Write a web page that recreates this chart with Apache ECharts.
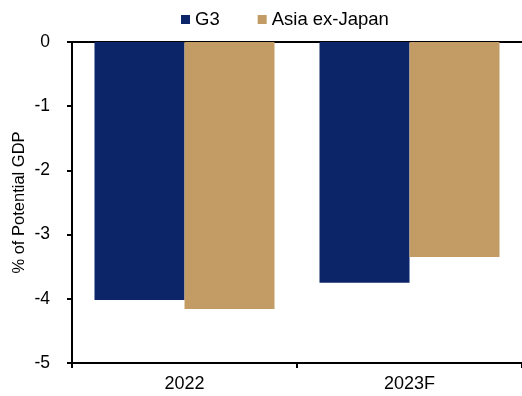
<!DOCTYPE html>
<html><head><meta charset="utf-8">
<script src="https://cdn.jsdelivr.net/npm/echarts@6/dist/echarts.min.js"></script>
<style>html,body{margin:0;padding:0;background:#fff}#c{width:522px;height:396px}</style>
</head><body><div id="c"></div>
<script>
var categories = ['2022', '2023F'];
var g3 = [-4.02, -3.75];
var asiaExJapan = [-4.16, -3.35];
var yTicks = [0, -1, -2, -3, -4, -5];

var chart = echarts.init(document.getElementById('c'));
var font = 'Arial, "Liberation Sans", sans-serif';
chart.setOption({
  animation: false,
  textStyle: {fontFamily: font},
  legend: {
    top: 5, left: 176, itemWidth: 9, itemHeight: 9, itemGap: 38,
    icon: 'rect',
    textStyle: {fontSize: 18.5, color: '#000', fontFamily: font},
    data: ['G3', 'Asia ex-Japan']
  },
  grid: {left: 72, right: -2, top: 42, bottom: 33},
  xAxis: [{
    type: 'category', data: categories, position: 'bottom',
    axisLine: {onZero: false, lineStyle: {color: '#000', width: 2}},
    axisTick: {show: true, length: 5, lineStyle: {color: '#000', width: 2}},
    axisLabel: {fontSize: 18, color: '#000', margin: 12, fontFamily: font}
  }, {
    type: 'category', data: categories, position: 'top',
    axisLine: {show: true, onZero: false, lineStyle: {color: '#000', width: 2}},
    axisTick: {show: false}, axisLabel: {show: false}
  }],
  yAxis: {
    type: 'value', min: -5, max: 0, interval: 1,
    name: '% of Potential GDP', nameLocation: 'middle', nameGap: 44,
    nameMoveOverlap: false,
    nameTextStyle: {fontSize: 16.5, color: '#000', fontFamily: font},
    axisLine: {show: true, lineStyle: {color: '#000', width: 2}},
    axisTick: {show: true, length: 5, lineStyle: {color: '#000', width: 2}},
    axisLabel: {fontSize: 17.5, color: '#000', margin: 22, fontFamily: font,
      formatter: function (v) { return yTicks.indexOf(v) >= 0 ? String(v) : ''; }},
    splitLine: {show: false}
  },
  series: [{
    name: 'G3', type: 'bar', data: g3, barWidth: '40%', barGap: '0%',
    itemStyle: {color: '#0C2468'}
  }, {
    name: 'Asia ex-Japan', type: 'bar', data: asiaExJapan, barWidth: '40%', barGap: '0%',
    itemStyle: {color: '#C39B64'}
  }]
});
</script></body></html>
